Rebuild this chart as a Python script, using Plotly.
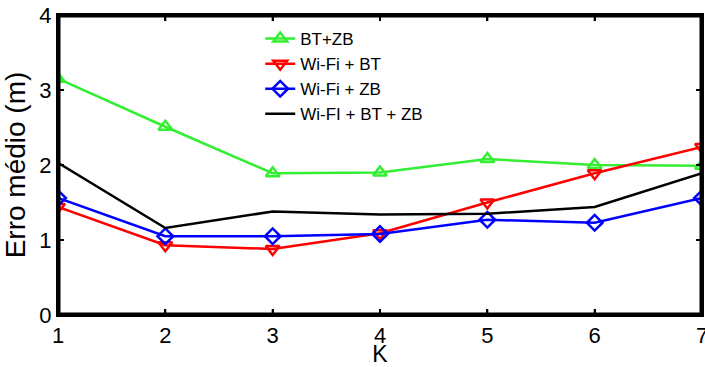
import plotly.graph_objects as go

K = [1, 2, 3, 4, 5, 6, 7]
bt_zb = [3.15, 2.51, 1.89, 1.90, 2.08, 2.00, 1.99]
wifi_bt = [1.44, 0.93, 0.88, 1.09, 1.50, 1.89, 2.24]
wifi_zb = [1.56, 1.05, 1.05, 1.08, 1.27, 1.23, 1.56]
wifi_bt_zb = [2.03, 1.16, 1.38, 1.34, 1.35, 1.44, 1.89]
y_ticks = [0, 1, 2, 3, 4]

names = ["BT+ZB", "Wi-Fi + BT", "Wi-Fi + ZB", "Wi-FI + BT + ZB"]

FONT = "Liberation Sans, Arial, Helvetica"

X_RANGE = [K[0], K[-1]]
Y_RANGE = [y_ticks[0], y_ticks[-1]]
TICK_Y = 0.08   # inward tick length in y units (~6 px)
TICK_X = 0.056  # inward tick length in x units (~6 px)

fig = go.Figure()

# frame (box) and inward tick marks
fx = [X_RANGE[0], X_RANGE[1], X_RANGE[1], X_RANGE[0], X_RANGE[0]]
fy = [Y_RANGE[0], Y_RANGE[0], Y_RANGE[1], Y_RANGE[1], Y_RANGE[0]]
tx, ty = [], []
for k in K:
    tx += [k, k, None, k, k, None]
    ty += [Y_RANGE[0], Y_RANGE[0] + TICK_Y, None, Y_RANGE[1], Y_RANGE[1] - TICK_Y, None]
for v in y_ticks:
    tx += [X_RANGE[0], X_RANGE[0] + TICK_X, None, X_RANGE[1], X_RANGE[1] - TICK_X, None]
    ty += [v, v, None, v, v, None]

fig.add_trace(go.Scatter(x=tx, y=ty, mode="lines", line=dict(color="black", width=2),
                         connectgaps=False, showlegend=False, hoverinfo="skip"))

fig.add_trace(go.Scatter(x=K, y=bt_zb, name=names[0], mode="lines+markers",
                         line=dict(color="#33ee33", width=2.5),
                         marker=dict(symbol="triangle-up-open", size=12, line=dict(width=2.5, color="#22ee22"))))
fig.add_trace(go.Scatter(x=K, y=wifi_bt, name=names[1], mode="lines+markers",
                         line=dict(color="#ff0000", width=2.5),
                         marker=dict(symbol="triangle-down-open", size=12, line=dict(width=2.5, color="#ff0000"))))
fig.add_trace(go.Scatter(x=K, y=wifi_zb, name=names[2], mode="lines+markers",
                         line=dict(color="#0000ff", width=2.5),
                         marker=dict(symbol="diamond-open", size=12, line=dict(width=2.5, color="#0000ff"))))
fig.add_trace(go.Scatter(x=K, y=wifi_bt_zb, name=names[3], mode="lines",
                         line=dict(color="#000000", width=2.5)))

fig.add_trace(go.Scatter(x=fx, y=fy, mode="lines", line=dict(color="black", width=5),
                         showlegend=False, hoverinfo="skip"))

axis_common = dict(showgrid=False, zeroline=False, showline=True, linecolor="#000000", linewidth=2,
                   mirror="allticks", ticks="inside", ticklen=6, tickwidth=2, tickcolor="#000000",
                   automargin=False, ticklabeloverflow="allow",
                   tickfont=dict(family=FONT, size=22, color="black"))

fig.update_layout(
    width=705, height=367,
    margin=dict(l=58, r=3, t=15, b=52),
    paper_bgcolor="white", plot_bgcolor="white",
    xaxis=dict(range=X_RANGE, tickmode="array", tickvals=K, title=dict(text="K", standoff=0,
               font=dict(family=FONT, size=23, color="black")), **axis_common),
    yaxis=dict(range=Y_RANGE, tickmode="array", tickvals=y_ticks, title=dict(text="Erro médio (m)", standoff=6,
               font=dict(family=FONT, size=28, color="black")), **axis_common),
    legend=dict(x=0.314, y=0.98, xanchor="left", yanchor="top", bgcolor="rgba(255,255,255,0)",
                font=dict(family=FONT, size=17, color="black"),
                itemwidth=30, tracegroupgap=0),
    showlegend=True,
)

fig.write_html("out.html", config={"displayModeBar": False},
               post_script="document.body.style.margin='0';document.body.style.overflow='hidden';document.documentElement.style.overflow='hidden';")
